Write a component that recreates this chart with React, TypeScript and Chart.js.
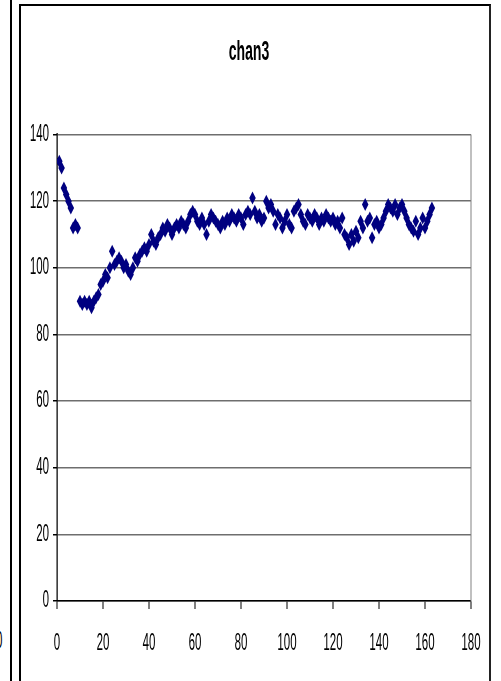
import React, { useEffect, useRef } from "react";
import { Chart, registerables } from "chart.js";

Chart.register(...registerables);

const title = "chan3";
const xTickMin = 0;
const xTickMax = 180;
const xStep = 20;
const yTickMin = 0;
const yTickMax = 140;
const yStep = 20;

// sample index runs 1..N
const chan3Values: number[] = [
  132, 130, 124, 122, 120, 118, 112, 113, 112, 90,
  89, 90, 89, 90, 88, 90, 91, 92, 95, 96,
  98, 97, 100, 105, 101, 102, 103, 102, 100, 101,
  99, 98, 100, 103, 102, 104, 105, 106, 105, 107,
  110, 108, 107, 109, 110, 112, 111, 113, 112, 110,
  112, 113, 112, 114, 113, 112, 114, 116, 117, 116,
  114, 113, 115, 113, 110, 114, 116, 115, 114, 113,
  112, 114, 113, 115, 114, 116, 115, 114, 116, 115,
  113, 116, 117, 116, 121, 117, 115, 116, 114, 115,
  120, 118, 119, 117, 113, 116, 115, 112, 114, 116,
  113, 112, 117, 118, 119, 116, 114, 113, 116, 115,
  114, 116, 115, 113, 115, 114, 116, 115, 114, 115,
  113, 114, 112, 115, 110, 109, 107, 110, 108, 111,
  109, 114, 112, 119, 114, 115, 109, 113, 114, 112,
  113, 115, 117, 119, 118, 117, 119, 116, 118, 119,
  117, 115, 113, 112, 111, 114, 110, 112, 115, 112,
  114, 116, 118,
];

const FONT = "'Liberation Sans', Arial, sans-serif";

const plotBorder = {
  id: "plotBorder",
  afterDatasetsDraw(chart: any) {
    const { ctx, chartArea } = chart;
    ctx.save();
    ctx.strokeStyle = "#808080";
    ctx.lineWidth = 2;
    ctx.beginPath();
    ctx.moveTo(chartArea.right, chartArea.top);
    ctx.lineTo(chartArea.right, chartArea.bottom);
    ctx.stroke();
    ctx.restore();
  },
};

export default function App() {
  const ref = useRef<HTMLCanvasElement>(null);
  useEffect(() => {
    if (!ref.current) return;
    const data = chan3Values.map((v, i) => ({ x: i + 1, y: v }));
    const chart = new Chart(ref.current, {
      type: "scatter",
      data: {
        datasets: [
          {
            label: title,
            data,
            pointStyle: "rectRot",
            pointRadius: 6.5,
            pointBackgroundColor: "#000080",
            pointBorderColor: "#000080",
            pointBorderWidth: 0,
            showLine: false,
          },
        ],
      },
      plugins: [plotBorder],
      options: {
        responsive: false,
        animation: false,
        devicePixelRatio: 1,
        layout: { padding: { left: 54, right: 60, top: 0, bottom: 0 } },
        plugins: {
          legend: { display: false },
          tooltip: { enabled: false },
          title: {
            display: true,
            text: title,
            color: "#000",
            font: { family: FONT, size: 28, weight: "bold", lineHeight: 1.2 },
            padding: { top: 35, bottom: 66 },
          },
        },
        scales: {
          x: {
            type: "linear",
            min: xTickMin,
            max: xTickMax,
            afterFit: (s: any) => {
              s.height = 80;
            },
            ticks: {
              stepSize: xStep,
              color: "#000",
              font: { family: FONT, size: 23 },
              padding: 21,
              maxRotation: 0,
            },
            grid: {
              drawOnChartArea: false,
              drawTicks: true,
              tickLength: 8,
              tickColor: "#000",
              lineWidth: 2,
            },
            border: { display: true, color: "#000", width: 1.5 },
          },
          y: {
            type: "linear",
            min: yTickMin,
            max: yTickMax,
            afterFit: (s: any) => {
              s.width = 60;
            },
            ticks: {
              stepSize: yStep,
              color: "#000",
              font: { family: FONT, size: 23 },
              padding: 8,
            },
            grid: {
              color: "#6e6e6e",
              lineWidth: 1.5,
              drawTicks: true,
              tickLength: 8,
              tickColor: "#000",
            },
            border: { display: true, color: "#000", width: 2.5 },
          },
        },
      },
    });
    return () => chart.destroy();
  }, []);

  return (
    <div style={{ position: "absolute", left: 0, top: 0, width: 501, height: 681, overflow: "hidden", background: "#fff" }}>
      <div style={{ position: "absolute", left: 10, top: 0, width: 2, height: 681, background: "#000" }} />
      <span
        style={{
          position: "absolute",
          left: -4,
          top: 627,
          fontFamily: FONT,
          fontSize: 23,
          transform: "scaleX(0.5)",
          transformOrigin: "left top",
          color: "#000",
        }}
      >
        0
      </span>
      <div
        style={{
          position: "absolute",
          left: 19,
          top: 4,
          width: 468,
          height: 700,
          borderLeft: "2px solid #000",
          borderTop: "2px solid #000",
          borderRight: "2px solid #222",
        }}
      />
      <canvas
        ref={ref}
        width={1002}
        height={681}
        style={{ position: "absolute", left: 0, top: 0, width: 501, height: 681 }}
      />
    </div>
  );
}
